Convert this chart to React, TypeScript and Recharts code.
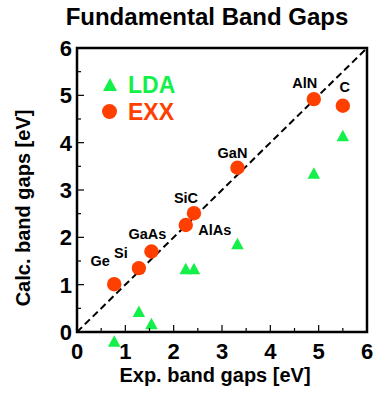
import {
  ScatterChart,
  Scatter,
  XAxis,
  YAxis,
  ReferenceLine,
  ReferenceDot,
  ReferenceArea,
  Legend,
  Label,
} from 'recharts';

const materials = ['Ge', 'Si', 'GaAs', 'AlAs', 'SiC', 'GaN', 'AlN', 'C'];
const expGaps = [0.77, 1.28, 1.54, 2.25, 2.42, 3.32, 4.9, 5.5];
const ldaGaps = [-0.19, 0.44, 0.18, 1.34, 1.34, 1.87, 3.36, 4.15];
const exxGaps = [1.01, 1.35, 1.7, 2.26, 2.51, 3.47, 4.92, 4.78];
const axisTicks = [0, 0.5, 1, 1.5, 2, 2.5, 3, 3.5, 4, 4.5, 5, 5.5, 6];
const seriesNames = ['LDA', 'EXX'];
const chartTitle = 'Fundamental Band Gaps';

const LDA_COLOR = '#14f04a';
const EXX_COLOR = '#ff3f00';
const FONT = '"Liberation Sans", Arial, sans-serif';

// where each material's name sits relative to its EXX dot
const labelOffset: Record<string, [number, number]> = {
  Ge: [-14, -18],
  Si: [-18, -10],
  GaAs: [-4, -13],
  AlAs: [29, 10],
  SiC: [-8, -10],
  GaN: [-5, -10],
  AlN: [-9, -11],
  C: [2, -14],
};

const exxData = materials.map((name, i) => ({ name, x: expGaps[i], y: exxGaps[i] }));
const ldaData = materials.map((name, i) => ({ name, x: expGaps[i], y: ldaGaps[i] }));

const triPath = (cx: number, cy: number, w: number, h: number) =>
  `M${cx},${cy - h / 2} L${cx + w / 2},${cy + h / 2} L${cx - w / 2},${cy + h / 2} Z`;

const ExxDot = (props: any) => {
  const { cx, cy, payload } = props;
  const [dx, dy] = labelOffset[payload.name] || [0, -12];
  return (
    <g>
      <circle cx={cx} cy={cy} r={7.2} fill={EXX_COLOR} />
      <text
        x={cx + dx}
        y={cy + dy}
        textAnchor="middle"
        fontSize={14.5}
        fontWeight="bold"
        fontFamily={FONT}
        fill="#000"
      >
        {payload.name}
      </text>
    </g>
  );
};

const LdaTriangle = (props: any) => (
  <path d={triPath(props.cx, props.cy, 12.5, 11.5)} fill={LDA_COLOR} />
);

const tickLen = (v: number) => (Number.isInteger(v) ? 7 : 4);

const BottomTick = ({ x, y, payload }: any) => (
  <g>
    <line x1={x} y1={y} x2={x} y2={y - tickLen(payload.value)} stroke="#000" strokeWidth={1.2} />
    {Number.isInteger(payload.value) && (
      <text x={x} y={y + 27} textAnchor="middle" fontSize={22} fontWeight="bold" fontFamily={FONT} fill="#000">
        {payload.value}
      </text>
    )}
  </g>
);

const LeftTick = ({ x, y, payload }: any) => (
  <g>
    <line x1={x} y1={y} x2={x + tickLen(payload.value)} y2={y} stroke="#000" strokeWidth={1.2} />
    {Number.isInteger(payload.value) && (
      <text x={x - 5} y={y + 8} textAnchor="end" fontSize={22} fontWeight="bold" fontFamily={FONT} fill="#000">
        {payload.value}
      </text>
    )}
  </g>
);

const TopTick = ({ x, y, payload }: any) => (
  <line x1={x} y1={y} x2={x} y2={y + tickLen(payload.value)} stroke="#000" strokeWidth={1.2} />
);

const RightTick = ({ x, y, payload }: any) => (
  <line x1={x} y1={y} x2={x - tickLen(payload.value)} y2={y} stroke="#000" strokeWidth={1.2} />
);

const XTitle = ({ viewBox }: any) => (
  <text
    x={viewBox.x + viewBox.width / 2 - 7}
    y={viewBox.y + 50}
    textAnchor="middle"
    fontSize={20}
    fontWeight="bold"
    fontFamily={FONT}
    fill="#000"
  >
    Exp. band gaps [eV]
  </text>
);

const YTitle = () => (
  <text
    x={30}
    y={208}
    transform="rotate(-90, 30, 208)"
    textAnchor="middle"
    fontSize={20}
    fontWeight="bold"
    fontFamily={FONT}
    fill="#000"
  >
    Calc. band gaps [eV]
  </text>
);

const LegendBox = () => (
  <svg width={100} height={62} style={{ display: 'block' }}>
    {seriesNames.map((name, i) => {
      const cy = 14.5 + i * 27;
      const color = name === 'LDA' ? LDA_COLOR : EXX_COLOR;
      return (
        <g key={name}>
          {name === 'LDA' ? (
            <path d={triPath(14, cy, 14, 13)} fill={color} />
          ) : (
            <circle cx={13.5} cy={cy} r={7.5} fill={color} />
          )}
          <text x={32} y={cy + 8} fontSize={23} fontWeight="bold" fontFamily={FONT} fill={color}>
            {name}
          </text>
        </g>
      );
    })}
  </svg>
);

export default function App() {
  return (
    <div style={{ position: 'absolute', left: 0, top: 0, width: 377, height: 396, background: '#fff' }}>
      <svg width={377} height={34} style={{ position: 'absolute', left: 0, top: 0, zIndex: 1 }}>
        <text x={207} y={25} textAnchor="middle" fontSize={24} fontWeight="bold" fontFamily={FONT} fill="#000">
          {chartTitle}
        </text>
      </svg>
      <ScatterChart width={377} height={396} margin={{ top: 48, right: 10, bottom: 0, left: 0 }}>
        <XAxis
          dataKey="x"
          type="number"
          domain={[0, 6]}
          ticks={axisTicks}
          interval={0}
          height={64}
          tickSize={0}
          tickMargin={0}
          axisLine={false}
          tickLine={false}
          tick={<BottomTick />}
          label={<Label content={XTitle} />}
        />
        <XAxis
          xAxisId="top"
          orientation="top"
          type="number"
          domain={[0, 6]}
          ticks={axisTicks}
          interval={0}
          height={0}
          tickSize={0}
          tickMargin={0}
          axisLine={false}
          tickLine={false}
          tick={<TopTick />}
        />
        <YAxis
          dataKey="y"
          type="number"
          domain={[0, 6]}
          ticks={axisTicks}
          interval={0}
          width={77}
          tickSize={0}
          tickMargin={0}
          axisLine={false}
          tickLine={false}
          tick={<LeftTick />}
          label={<Label content={YTitle} />}
        />
        <YAxis
          yAxisId="right"
          orientation="right"
          type="number"
          domain={[0, 6]}
          ticks={axisTicks}
          interval={0}
          width={0}
          tickSize={0}
          tickMargin={0}
          axisLine={false}
          tickLine={false}
          tick={<RightTick />}
        />
        <Legend
          layout="vertical"
          align="center"
          verticalAlign="middle"
          content={<LegendBox />}
          wrapperStyle={{ left: 96, top: 70, width: 100, height: 62 }}
        />
        <Scatter name="EXX" data={exxData} shape={<ExxDot />} isAnimationActive={false} />
        {ldaData.map((d) => (
          <ReferenceDot
            key={d.name}
            x={d.x}
            y={d.y}
            r={6}
            ifOverflow="visible"
            shape={<LdaTriangle />}
          />
        ))}
        <ReferenceLine
          segment={[
            { x: 0, y: 0 },
            { x: 6, y: 6 },
          ]}
          stroke="#000"
          strokeWidth={2}
          strokeDasharray="7 4"
        />
        <ReferenceArea x1={0} x2={6} y1={0} y2={6} fill="none" fillOpacity={0} stroke="#000" strokeWidth={2.5} />
      </ScatterChart>
    </div>
  );
}
